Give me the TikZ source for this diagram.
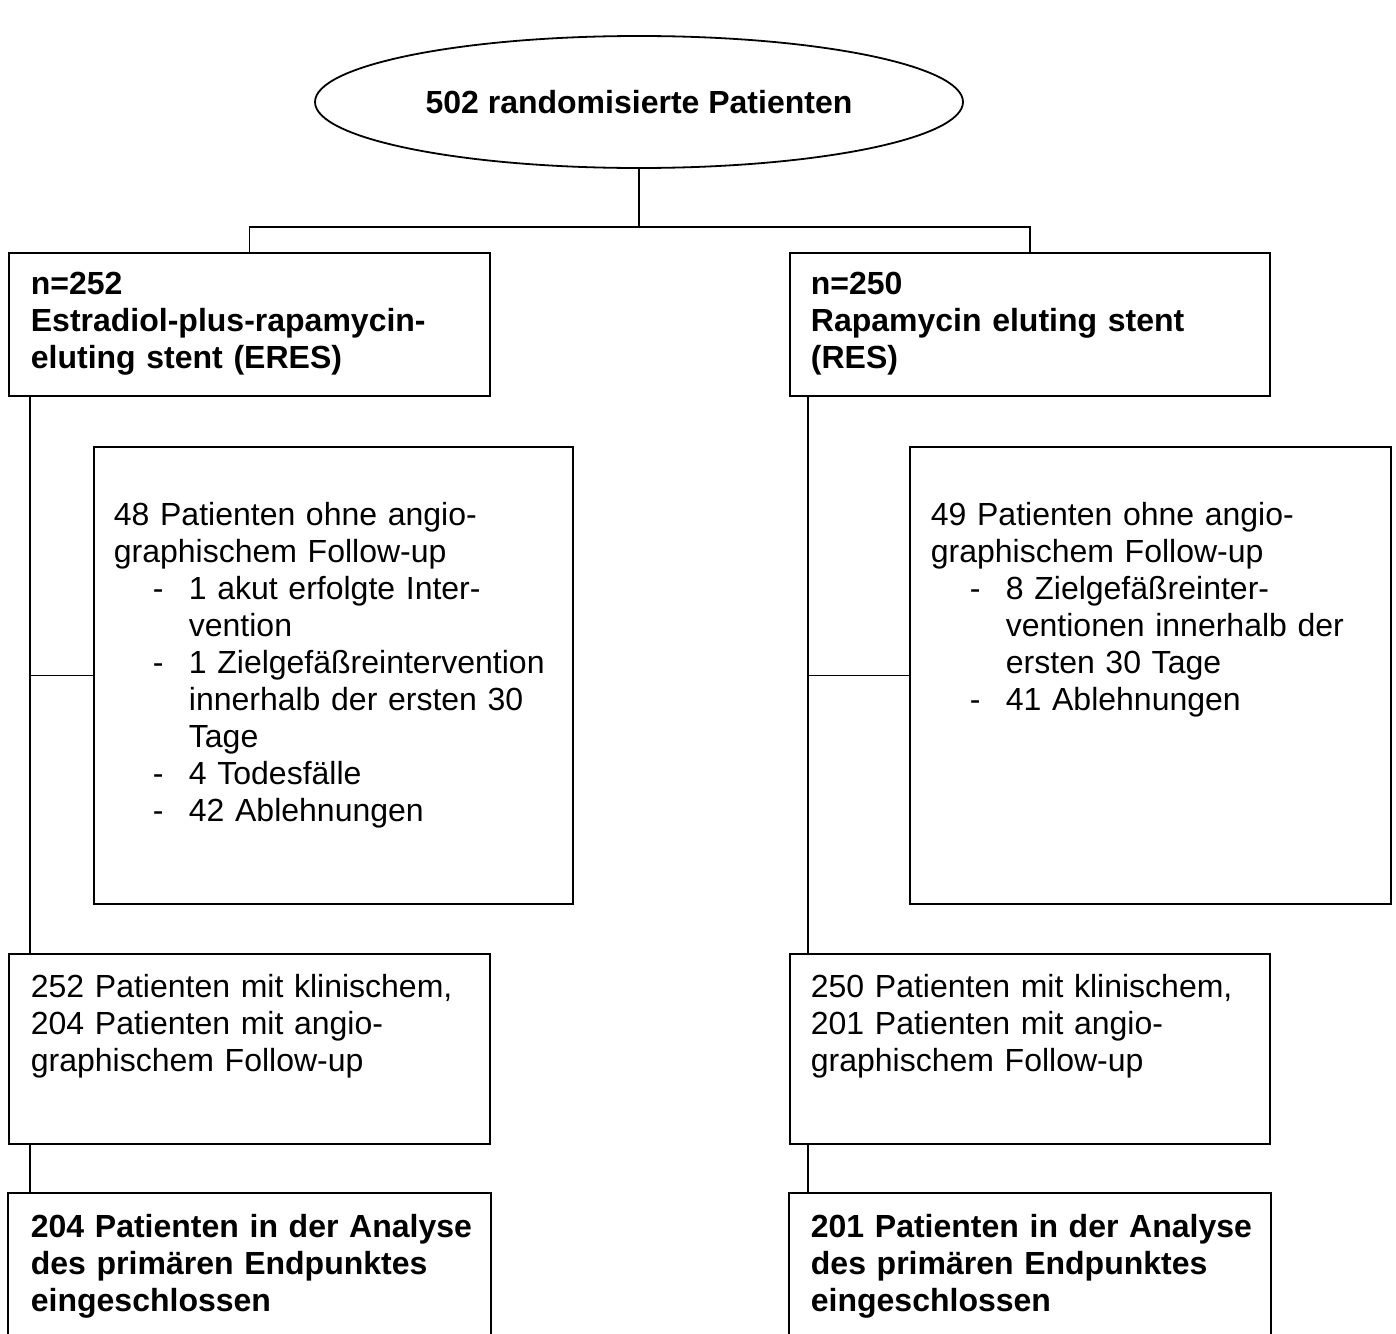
\documentclass[tikz,border=0pt]{standalone}
\usepackage{fontspec}
\setmainfont{Liberation Sans}
\usepackage{tikz}
\usetikzlibrary{positioning, shapes.geometric, calc}
\newcommand{\flowfont}{\fontsize{32}{37}\selectfont}
\newcommand{\dashline}[1]{\makebox[75pt][l]{\hspace*{39pt}-}#1}
\newcommand{\contline}[1]{\hspace*{75pt}#1}

\begin{document}
\begin{tikzpicture}[x=1pt, y=-1pt, line width=1.8pt, font=\flowfont,
  box/.style={draw, anchor=north west, align=left, inner ysep=0pt, inner xsep=22pt, text width=437pt},
  openbox/.style={box, draw=none}]
\useasboundingbox (0,0) rectangle (1396,1333);
\node[draw, ellipse, minimum width=648pt, minimum height=132pt, font=\flowfont\bfseries] (rand) at (639,102) {502 randomisierte Patienten};
% left arm: ERES
\node[box, font=\flowfont\bfseries, text height=42pt, text depth=101pt] (eres) at (8,252) {n=252\\\mbox{Estradiol-plus-rapamycin-}\\eluting stent (ERES)};
\node[box, inner xsep=20pt, text width=439pt, text height=79pt, text depth=378pt] (eresdrop) at (93,446) {48 Patienten ohne angio-\\graphischem Follow-up\\\dashline{1 akut erfolgte Inter-}\\\contline{vention}\\\dashline{1 Zielgefäßreintervention}\\\contline{innerhalb der ersten 30}\\\contline{Tage}\\\dashline{4 Todesfälle}\\\dashline{42 Ablehnungen}};
\node[box, text height=44pt, text depth=146pt] (eresfu) at (8,953) {252 Patienten mit klinischem,\\204 Patienten mit angio-\\graphischem Follow-up};
\node[openbox, font=\flowfont\bfseries, text height=44pt, text depth=96pt] (eresana) at (8,1193) {\mbox{204 Patienten in der Analyse}\\des primären Endpunktes\\eingeschlossen};
% right arm: RES
\node[box, inner xsep=21pt, text width=438pt, font=\flowfont\bfseries, text height=42pt, text depth=101pt] (res) at (789,252) {n=250\\Rapamycin eluting stent\\(RES)};
\node[box, inner xsep=21pt, text width=439pt, text height=79pt, text depth=378pt] (resdrop) at (909,446) {49 Patienten ohne angio-\\graphischem Follow-up\\\dashline{8 Zielgefäßreinter-}\\\contline{ventionen innerhalb der}\\\contline{ersten 30 Tage}\\\dashline{41 Ablehnungen}};
\node[box, inner xsep=21pt, text width=438pt, text height=44pt, text depth=146pt] (resfu) at (789,953) {250 Patienten mit klinischem,\\201 Patienten mit angio-\\graphischem Follow-up};
\node[openbox, inner xsep=21pt, text width=438pt, font=\flowfont\bfseries, text height=44pt, text depth=96pt] (resana) at (789,1193) {\mbox{201 Patienten in der Analyse}\\des primären Endpunktes\\eingeschlossen};
\draw (eresana.south west) -- (eresana.north west) -- (eresana.north east) -- (eresana.south east);
\draw (resana.south west) -- (resana.north west) -- (resana.north east) -- (resana.south east);
% connectors
\coordinate (split) at ($(rand.south)+(0,58)$);
\draw (rand.south) -- (split);
\draw (eres.north) |- (split) -| (res.north);
\coordinate (lspine) at ([xshift=22pt]eres.south west);
\coordinate (rspine) at ([xshift=19pt]res.south west);
\draw (lspine) -- (lspine |- eresfu.north);
\draw (lspine |- eresdrop.west) -- (eresdrop.west);
\draw (lspine |- eresfu.south) -- (lspine |- eresana.north);
\draw (rspine) -- (rspine |- resfu.north);
\draw (rspine |- resdrop.west) -- (resdrop.west);
\draw (rspine |- resfu.south) -- (rspine |- resana.north);
\end{tikzpicture}
\end{document}
